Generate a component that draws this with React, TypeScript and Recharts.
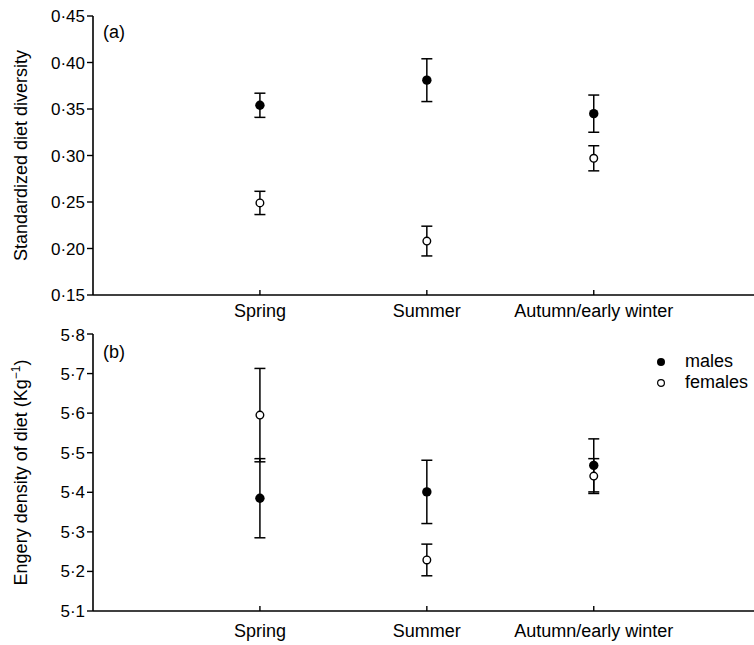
import { ScatterChart, Scatter, ErrorBar, XAxis, YAxis, Legend, Customized } from 'recharts';

const FONT = '"Liberation Sans", Arial, Helvetica, sans-serif';

// categories on a numeric axis so the axis can run past the last season
const seasons = ['Spring', 'Summer', 'Autumn/early winter'];
const seasonPos = [1, 2, 3];

// (a) standardized diet diversity
const diversityMales = [0.354, 0.381, 0.345];
const diversityMalesErr = [0.013, 0.023, 0.02];
const diversityFemales = [0.249, 0.208, 0.297];
const diversityFemalesErr = [0.0125, 0.016, 0.0135];
const diversityTicks = [0.15, 0.2, 0.25, 0.3, 0.35, 0.4, 0.45];

// (b) energy density of diet
const energyMales = [5.385, 5.401, 5.468];
const energyMalesErr = [0.1, 0.08, 0.067];
const energyFemales = [5.595, 5.229, 5.441];
const energyFemalesErr = [0.118, 0.04, 0.044];
const energyTicks = [5.1, 5.2, 5.3, 5.4, 5.5, 5.6, 5.7, 5.8];

const toPoints = (vals: number[], errs: number[]) =>
  seasonPos.map((x, i) => ({ x, y: vals[i], err: errs[i] }));

const dotted = (v: number, digits: number) => v.toFixed(digits).replace('.', '·');

const FilledDot = (props: any) => <circle cx={props.cx} cy={props.cy} r={4.7} fill="#000" />;
const OpenDot = (props: any) => (
  <circle cx={props.cx} cy={props.cy} r={3.8} fill="#fff" stroke="#000" strokeWidth={1.4} />
);

const SeasonTick = (props: any) => {
  const { x, y, payload, labelGap } = props;
  return (
    <g>
      <line x1={x} x2={x} y1={y} y2={y - 5} stroke="#000" strokeWidth={1.4} />
      <text
        x={x}
        y={y + labelGap}
        dy="0.71em"
        textAnchor="middle"
        fill="#000"
        fontSize={18}
        fontFamily={FONT}
      >
        {seasons[payload.value - 1]}
      </text>
    </g>
  );
};

const LegendBox = () => (
  <div style={{ fontFamily: FONT, fontSize: 18, color: '#000', lineHeight: '21px' }}>
    <div style={{ display: 'flex', alignItems: 'center' }}>
      <svg width={12} height={21}>
        <circle cx={6} cy={11} r={4} fill="#000" />
      </svg>
      <span style={{ marginLeft: 18 }}>males</span>
    </div>
    <div style={{ display: 'flex', alignItems: 'center' }}>
      <svg width={12} height={21}>
        <circle cx={6} cy={11} r={3.4} fill="#fff" stroke="#000" strokeWidth={1.2} />
      </svg>
      <span style={{ marginLeft: 18 }}>females</span>
    </div>
  </div>
);

interface PanelProps {
  top: number;
  height: number;
  marginTop: number;
  xAxisHeight: number;
  labelGap: number;
  domain: [number, number];
  ticks: number[];
  digits: number;
  males: { x: number; y: number; err: number }[];
  females: { x: number; y: number; err: number }[];
  yLabel: React.ReactNode;
  tag: string;
  tagY: number;
  showLegend?: boolean;
}

const Panel = (p: PanelProps) => (
  <div style={{ position: 'absolute', left: 0, top: p.top }}>
    <ScatterChart
      width={754}
      height={p.height}
      margin={{ top: p.marginTop, right: 0, bottom: 0, left: 0 }}
      style={{ fontFamily: FONT }}
    >
      <XAxis
        type="number"
        dataKey="x"
        domain={[0, 3.96]}
        ticks={seasonPos}
        height={p.xAxisHeight}
        tickSize={0}
        tickMargin={0}
        tickLine={false}
        axisLine={{ stroke: '#000', strokeWidth: 1.6 }}
        tick={<SeasonTick labelGap={p.labelGap} />}
        allowDataOverflow
      />
      <YAxis
        type="number"
        dataKey="y"
        domain={p.domain}
        ticks={p.ticks}
        width={93}
        tickSize={6}
        tickMargin={2}
        tickLine={{ stroke: '#000', strokeWidth: 1.4 }}
        axisLine={{ stroke: '#000', strokeWidth: 1.6 }}
        tick={{ fill: '#000', fontSize: 17, fontFamily: FONT }}
        tickFormatter={(v: number) => dotted(v, p.digits)}
        label={{
          content: (lp: any) => {
            const vb = lp.viewBox || { y: 0, height: 0 };
            const cy = vb.y + vb.height / 2;
            return (
              <text
                x={27}
                y={cy}
                transform={`rotate(-90, 27, ${cy})`}
                textAnchor="middle"
                fill="#000"
                fontSize={18}
                fontFamily={FONT}
              >
                {p.yLabel}
              </text>
            );
          },
        }}
      />
      <Scatter name="males" data={p.males} shape={<FilledDot />} isAnimationActive={false}>
        <ErrorBar dataKey="err" direction="y" width={5.5} stroke="#000" strokeWidth={1.5} />
      </Scatter>
      <Scatter name="females" data={p.females} shape={<OpenDot />} isAnimationActive={false}>
        <ErrorBar dataKey="err" direction="y" width={5.5} stroke="#000" strokeWidth={1.5} />
      </Scatter>
      <Customized
        component={() => (
          <text x={103} y={p.tagY} dominantBaseline="central" fill="#000" fontSize={18} fontFamily={FONT}>
            {p.tag}
          </text>
        )}
      />
      {p.showLegend && (
        <Legend
          layout="horizontal"
          align="center"
          verticalAlign="middle"
          content={() => <LegendBox />}
          wrapperStyle={{ top: 26, left: 655, width: 110, height: 42 }}
        />
      )}
    </ScatterChart>
  </div>
);

export default function App() {
  return (
    <div style={{ position: 'absolute', left: 0, top: 0, width: 754, height: 645, background: '#fff' }}>
      <Panel
        top={0}
        height={325}
        marginTop={16}
        xAxisHeight={30}
        labelGap={9}
        domain={[0.15, 0.45]}
        ticks={diversityTicks}
        digits={2}
        males={toPoints(diversityMales, diversityMalesErr)}
        females={toPoints(diversityFemales, diversityFemalesErr)}
        yLabel="Standardized diet diversity"
        tag="(a)"
        tagY={32}
      />
      <Panel
        top={325}
        height={320}
        marginTop={9}
        xAxisHeight={34}
        labelGap={13}
        domain={[5.1, 5.8]}
        ticks={energyTicks}
        digits={1}
        males={toPoints(energyMales, energyMalesErr)}
        females={toPoints(energyFemales, energyFemalesErr)}
        yLabel={
          <>
            Engery density of diet (Kg
            <tspan dy={-7} fontSize={12}>
              −1
            </tspan>
            <tspan dy={7}>)</tspan>
          </>
        }
        tag="(b)"
        tagY={27}
        showLegend
      />
    </div>
  );
}
